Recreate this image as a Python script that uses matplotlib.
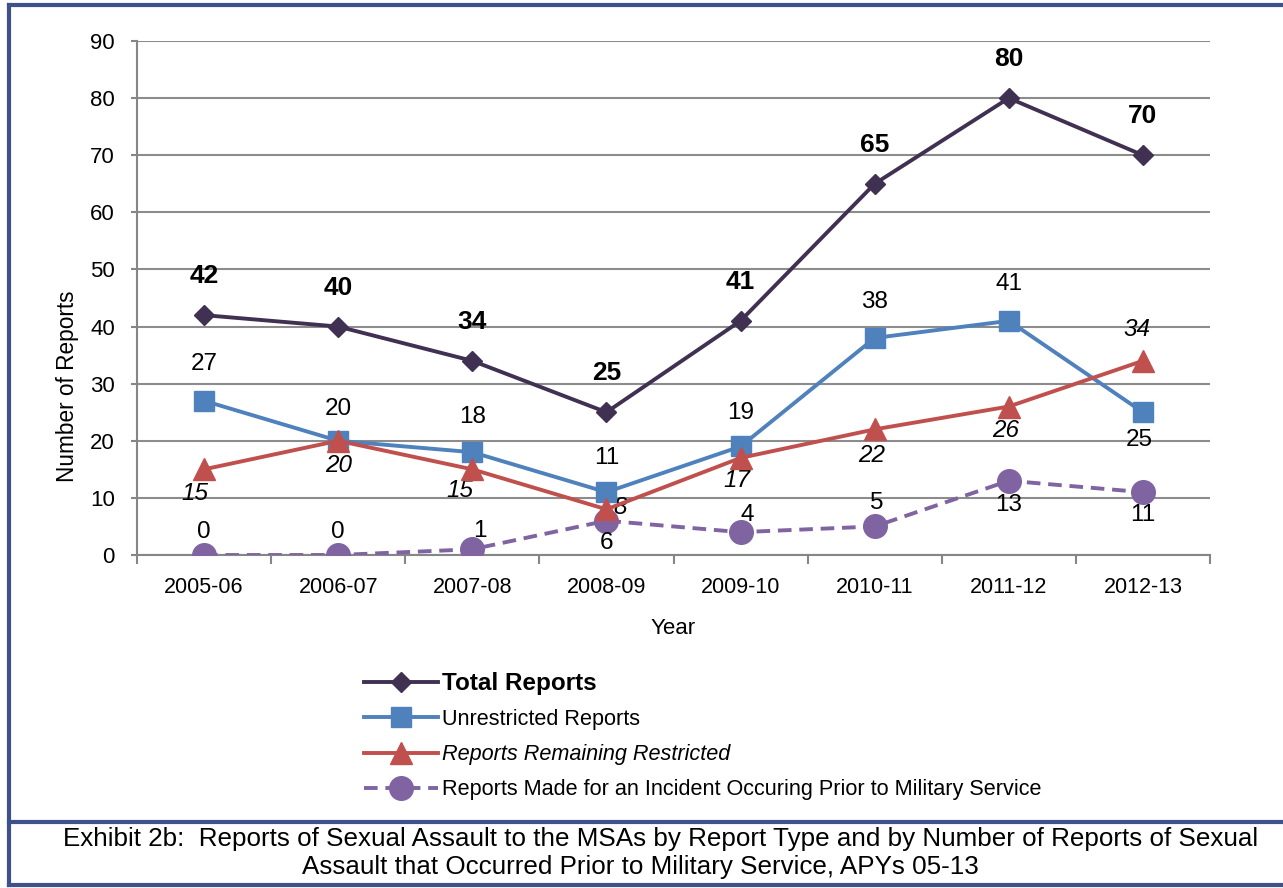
import matplotlib as mpl

mpl.use('Agg')
import matplotlib.pyplot as plt
from matplotlib.lines import Line2D

plt.rcParams['font.family'] = ['Liberation Sans', 'DejaVu Sans']

years = ['2005-06', '2006-07', '2007-08', '2008-09', '2009-10', '2010-11', '2011-12', '2012-13']
total = [42, 40, 34, 25, 41, 65, 80, 70]
unrestricted = [27, 20, 18, 11, 19, 38, 41, 25]
restricted = [15, 20, 15, 8, 17, 22, 26, 34]
prior = [0, 0, 1, 6, 4, 5, 13, 11]

# label placement per point: (dx px, dy px)
unres_off = [(0, 37), (0, 32), (0, 35), (0, 34), (0, 33), (0, 36), (0, 37), (-4, -28)]
restr_off = [(-9, -24), (0, -25), (-12, -21), (14, 2), (-4, -23), (-3, -26), (-3, -24), (-6, 31)]
prior_off = [(0, 23), (0, 23), (8, 18), (0, -22), (7, 17), (2, 23), (0, -24), (0, -23)]

c_total = '#403152'
c_unres = '#4F81BD'
c_restr = '#C0504D'
c_prior = '#8064A2'
border = '#3F5189'

fig = plt.figure(figsize=(12.83, 8.88), dpi=100)
ax = fig.add_axes([137 / 1283, 1 - 555 / 888, 1073 / 1283, 514 / 888])

x = list(range(len(years)))
ax.plot(x, total, color=c_total, lw=2.8, marker='D', ms=10, label='Total Reports', zorder=5)
ax.plot(x, unrestricted, color=c_unres, lw=2.8, marker='s', ms=15, label='Unrestricted Reports', zorder=4)
ax.plot(x, restricted, color=c_restr, lw=2.8, marker='^', ms=16, label='Reports Remaining Restricted', zorder=4)
ax.plot(x, prior, color=c_prior, lw=2.8, ls=(0, (3.5, 2)), marker='o', ms=17,
        label='Reports Made for an Incident Occuring Prior to Military Service', zorder=3)

for i in x:
    ax.annotate(str(total[i]), (i, total[i]), xytext=(0, 39), textcoords='offset pixels',
                ha='center', va='center', fontsize=19, fontweight='bold')
    ax.annotate(str(unrestricted[i]), (i, unrestricted[i]), xytext=unres_off[i], textcoords='offset pixels',
                ha='center', va='center', fontsize=17.5)
    ax.annotate(str(restricted[i]), (i, restricted[i]), xytext=restr_off[i], textcoords='offset pixels',
                ha='center', va='center', fontsize=17.5, style='italic')
    ax.annotate(str(prior[i]), (i, prior[i]), xytext=prior_off[i], textcoords='offset pixels',
                ha='center', va='center', fontsize=17.5)

ax.set_xlim(-0.5, 7.5)
ax.set_ylim(0, 90)
ax.set_yticks(range(0, 91, 10))
ax.set_xticks(x)
ax.set_xticklabels(years)
ax.set_xticks([i - 0.5 for i in range(9)], minor=True)
ax.tick_params(axis='x', which='major', length=0, labelsize=15.5, pad=16)
ax.tick_params(axis='x', which='minor', length=6.5, color='#868686', width=1.5)
ax.tick_params(axis='y', length=4.5, color='#868686', width=1.5, labelsize=16, pad=11.5)
ax.grid(axis='y', color='#8C8C8C', lw=1.5)
ax.set_axisbelow(True)
for s in ['top', 'right']:
    ax.spines[s].set_visible(False)
for s in ['left', 'bottom']:
    ax.spines[s].set_color('#868686')
    ax.spines[s].set_linewidth(1.5)
ax.set_xlabel('Year', fontsize=16, labelpad=14)
ax.set_ylabel('Number of Reports', fontsize=16.3)
ax.yaxis.set_label_coords(-58 / 1073, (555 - 386) / 514)

leg = fig.legend(loc='upper left', bbox_to_anchor=(345 / 1283, 1 - 652 / 888), frameon=False,
                 handlelength=3.4, fontsize=15.6, labelspacing=0.66, handletextpad=0.2)
texts = leg.get_texts()
texts[0].set_fontweight('bold')
texts[0].set_fontsize(17.5)
texts[2].set_style('italic')

# borders
fig.add_artist(Line2D([9 / 1283, 9 / 1283], [1 - 885 / 888, 1 - 5 / 888], transform=fig.transFigure, color=border, lw=3))
fig.add_artist(Line2D([9 / 1283, 1], [1 - 5 / 888, 1 - 5 / 888], transform=fig.transFigure, color=border, lw=3))
fig.add_artist(Line2D([9 / 1283, 1], [1 - 822 / 888, 1 - 822 / 888], transform=fig.transFigure, color=border, lw=3))
fig.add_artist(Line2D([9 / 1283, 1], [1 - 885 / 888, 1 - 885 / 888], transform=fig.transFigure, color=border, lw=3))

fig.text(661 / 1283, 1 - 839 / 888,
         'Exhibit 2b:  Reports of Sexual Assault to the MSAs by Report Type and by Number of Reports of Sexual',
         ha='center', va='center', fontsize=18.7)
fig.text(640 / 1283, 1 - 867 / 888,
         'Assault that Occurred Prior to Military Service, APYs 05-13',
         ha='center', va='center', fontsize=18.7)

plt.savefig('out.png', dpi=100)
